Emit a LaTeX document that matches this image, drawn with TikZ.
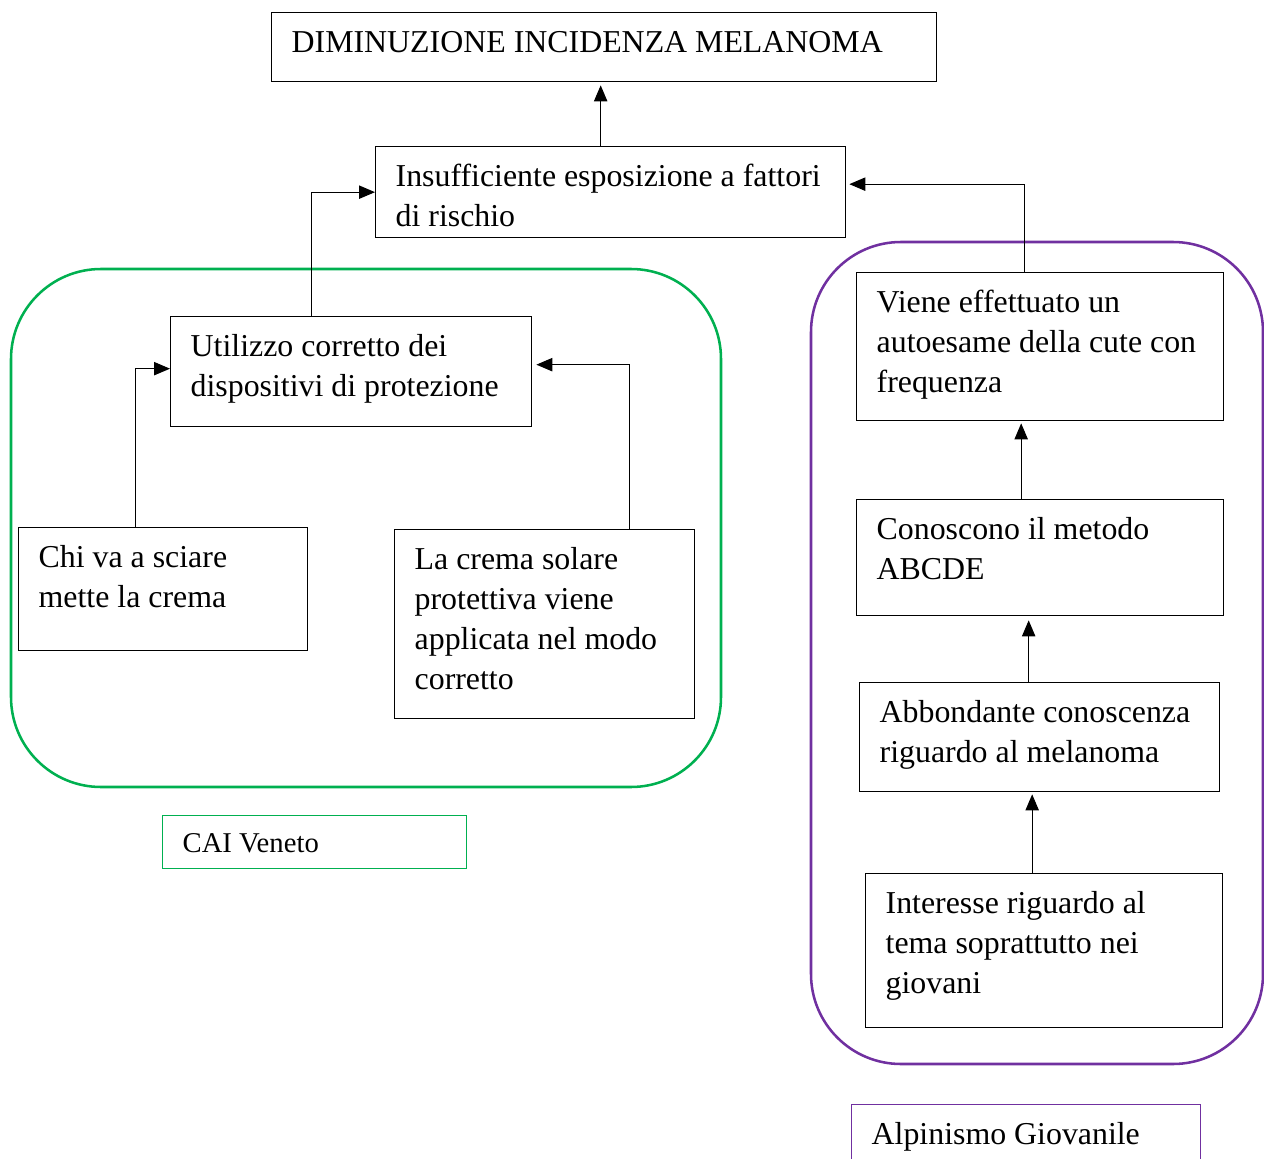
\documentclass[tikz,border=0pt]{standalone}
\usepackage{fontspec}
\setmainfont{Liberation Serif}
\usetikzlibrary{arrows.meta,positioning}
\definecolor{verdecai}{RGB}{0,176,80}
\definecolor{violaag}{RGB}{112,48,160}
\newlength{\px}\setlength{\px}{0.75pt}
% testo allineato in alto in una casella di altezza fissa
\newcommand{\cella}[3]{\parbox[t][#2\px][t]{#1\px}{\raggedright\strut #3}}

\begin{document}
\begin{tikzpicture}[x=0.75pt,y=-0.75pt,
  casella/.style={draw,line width=1pt,anchor=north west,inner xsep=20\px,inner ysep=12\px,
    font=\fontsize{23.9}{30}\selectfont},
  freccia/.style={-{Triangle[length=12pt,width=10pt]},line width=0.8pt},
  cornice/.style={line width=1.9pt,rounded corners=90\px}]
  \useasboundingbox (0,0) rectangle (1264,1159);
  % gruppi
  \draw[cornice,verdecai] (11,269) rectangle (721,787);
  \draw[cornice,violaag] (811,242) rectangle (1263,1064);
  % caselle
  \node[casella] (titolo) at (271,12) {\cella{625}{45}{DIMINUZIONE INCIDENZA MELANOMA}};
  \node[casella] (fattori) at (375,146) {\cella{430}{67}{Insufficiente esposizione a fattori\\ di rischio}};
  \node[casella] (utilizzo) at (170,316) {\cella{321}{86}{Utilizzo corretto dei\\ dispositivi di protezione}};
  \node[casella] (sciare) at (18,527) {\cella{249}{99}{Chi va a sciare\\ mette la crema}};
  \node[casella] (crema) at (394,529) {\cella{260}{165}{La crema solare\\ protettiva viene\\ applicata nel modo\\ corretto}};
  \node[casella] (autoesame) at (856,272) {\cella{327}{124}{Viene effettuato un\\ autoesame della cute con\\ frequenza}};
  \node[casella] (metodo) at (856,499) {\cella{327}{92}{Conoscono il metodo\\ ABCDE}};
  \node[casella] (conoscenza) at (859,682) {\cella{320}{85}{Abbondante conoscenza\\ riguardo al melanoma}};
  \node[casella] (interesse) at (865,873) {\cella{317}{130}{Interesse riguardo al\\ tema soprattutto nei\\ giovani}};
  % etichette dei gruppi
  \node[casella,draw=verdecai,font=\fontsize{21.5}{27}\selectfont] (cai) at (162,815) {\cella{264}{29}{CAI Veneto}};
  \node[casella,draw=violaag] (alpinismo) at (851,1104) {\cella{309}{80}{Alpinismo Giovanile}};
  % frecce
  \draw[freccia,shorten >=3\px] ([xshift=-10\px]fattori.north) -- ([xshift=-10\px]fattori.north |- titolo.south);
  \draw[freccia] ([xshift=-40\px]utilizzo.north) |- (fattori.west);
  \draw[freccia] ([xshift=-28\px]sciare.north) |- ([yshift=3\px]utilizzo.west);
  \draw[freccia,shorten >=4\px] ([xshift=85\px]crema.north) |- ([yshift=7\px]utilizzo.east);
  \draw[freccia,shorten >=3\px] ([xshift=-16\px]autoesame.north) |- ([yshift=8\px]fattori.east);
  \draw[freccia,shorten >=2\px] ([xshift=-19\px]metodo.north) -- ([xshift=-19\px]metodo.north |- autoesame.south);
  \draw[freccia,shorten >=4\px] ([xshift=-11\px]conoscenza.north) -- ([xshift=-11\px]conoscenza.north |- metodo.south);
  \draw[freccia,shorten >=2\px] ([xshift=-12\px]interesse.north) -- ([xshift=-12\px]interesse.north |- conoscenza.south);
\end{tikzpicture}
\end{document}
